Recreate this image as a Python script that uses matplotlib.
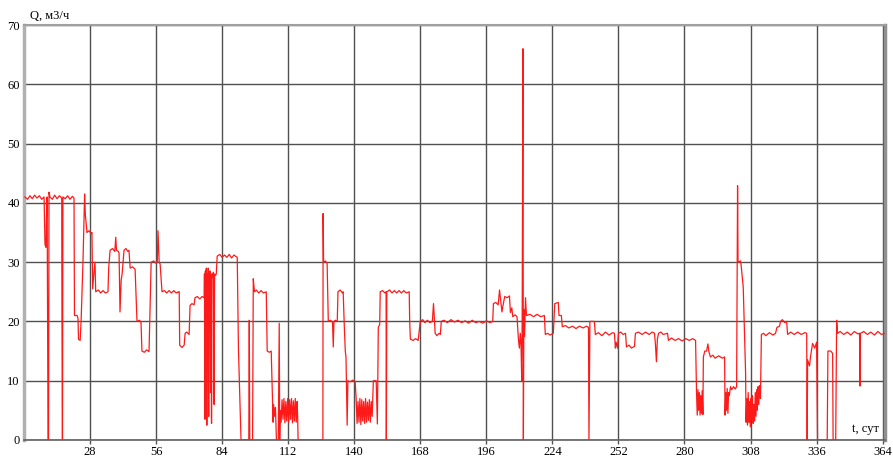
import numpy as np
import matplotlib
matplotlib.use("Agg")
import matplotlib.pyplot as plt

# flow rate Q (m3/h) versus time t (days), in four chunks
t_a = [0.4, 1.5, 2.5, 3.5, 4.5, 5.5, 6.5, 7.5, 8.5, 8.9, 9.3, 9.5, 9.8, 10.0, 10.2, 10.4, 10.6,
       11, 12, 13, 14, 15, 16.0, 16.1, 16.3, 16.5, 17.5, 18.5, 19.5, 20.5, 21.2, 21.4, 22.5,
       22.9, 23.1, 23.8, 24.2, 25.0, 25.7, 26.0, 26.7, 27.5, 28.5, 28.8, 29.1, 29.6, 30.1, 30.4,
       31.5, 32.5, 33.5, 34.5, 35.6, 35.9, 36.5, 37.5, 38.5, 38.9, 39.2, 40.0, 40.3, 40.7, 41.2,
       41.6, 42.4, 43.2, 44.0, 44.5, 45.0, 46.0, 47.1, 47.9, 49.0, 49.6, 50.0, 51.0, 52.0, 53.0,
       53.3, 53.9, 55.0, 56.0, 56.5, 56.8, 57.3, 57.7, 58.5]
q_a = [41, 40.6, 41.2, 40.7, 41.3, 40.8, 41.2, 40.6, 41, 33, 32.5, 37, 41, 20, 0, 0, 41.8,
       41, 40.6, 41.3, 40.7, 41.2, 40.8, 20, 0, 41, 40.7, 41.2, 40.6, 41.1, 40.8, 21, 21,
       20.5, 17, 16.8, 20, 30, 41.5, 38, 35, 35.3, 34.8, 35, 25.5, 28, 30, 25,
       25.3, 24.8, 25.2, 24.8, 25, 29, 32, 32.3, 31.8, 34.2, 32, 31.8, 31.5, 21.6, 27,
       28, 32, 32.3, 31.8, 32, 29, 29.2, 28.8, 20, 20.2, 19.8, 15, 14.8, 15.2, 14.9,
       20, 30, 30.2, 29.8, 30, 35.3, 30, 29.7, 25]

t_b = [59.5, 60.5, 61.5, 62.5, 63.5, 64.5, 65.5, 65.8, 66.0, 67.0, 67.9, 68.3, 69.0, 70.0, 70.4,
       71.2, 72.1, 72.5, 73.5, 74.5, 75.5, 76.4, 76.5, 76.7, 76.9, 77.1, 77.3, 77.5, 77.7, 77.9,
       78.1, 78.3, 78.5, 78.7, 78.9, 79.1, 79.3, 79.5, 79.7, 80.0, 80.3, 80.6, 80.8, 81.2, 81.5,
       81.9, 83, 84, 85, 86, 87, 88, 89, 90.4, 90.9, 92.0, 95.3, 95.5, 95.7, 96.9, 97.2, 97.7,
       98.5, 99.5, 100.5, 101.5, 102.7, 103.1, 104.0, 104.8, 105.4, 105.6, 105.8, 106.2, 106.6,
       107.0, 107.8, 108.2, 108.4, 108.6, 109.0, 109.4, 109.8, 110.2, 110.6, 111.0, 111.4, 111.8,
       112.2, 112.6, 113.0, 113.4, 113.8, 114.2, 114.6, 115.0, 115.4, 115.8, 116.0, 116.2,
       126.7, 126.8]
q_b = [25.2, 24.8, 25.2, 24.8, 25.2, 24.8, 25, 25, 16, 15.6, 16, 18, 18.2, 17.8, 22.7,
       23, 22.8, 24, 24.2, 23.8, 24.2, 24, 28, 3.5, 28.5, 5, 29, 2.5, 28, 12,
       29, 4, 28, 18, 28.5, 8, 28, 2.8, 28, 27.5, 28.3, 6, 28, 27.8, 28,
       31, 31.3, 30.8, 31.2, 30.8, 31.3, 30.7, 31.2, 30.8, 15.5, 0, 0, 20.2, 0, 0, 27.2, 25,
       25.3, 24.8, 25.2, 24.8, 25, 15, 14.8, 15, 6, 3, 6, 4, 5.5,
       0, 0, 19.7, 0, 5, 3, 6.8, 3.5, 7, 2.9, 6.5, 3.2, 7,
       3, 6.8, 3.5, 7, 2.9, 6.6, 3.2, 7, 3, 6.5, 4, 0,
       0, 38.2]

t_c = [127.0, 127.8, 128.5, 129.0, 130.0, 130.8, 131.1, 131.4, 132.0, 132.8, 133.1, 134.0, 135.0,
       135.3, 135.8, 136.2, 136.5, 137.0, 137.3, 138.3, 139.3, 140.4, 140.8, 141.2, 141.6, 142.0,
       142.4, 142.8, 143.2, 143.6, 144.0, 144.4, 144.8, 145.2, 145.6, 146.0, 146.4, 146.8, 147.2,
       147.6, 148.1, 149.3, 149.8, 150.2, 150.8, 151.0, 152, 153.0, 153.5, 153.6, 153.8, 155, 156,
       157, 158, 159, 160, 161, 162, 163.3, 163.5, 163.8, 165, 166, 167.1, 168.0, 169, 170, 171,
       172, 173.1, 173.6, 173.9, 174.3, 175, 176, 176.5, 176.9, 178, 179.5, 181, 182.5, 184,
       185.5, 187, 188.5, 190, 191.5, 193, 194.5, 196, 197.5, 198.7, 199.0, 200, 201, 201.6,
       202.2, 202.6, 203.2, 203.8, 204.8, 205.8, 206.2, 206.8, 207.2, 208.2, 209.0, 209.6, 210.0,
       210.4, 210.7, 211.0, 211.2, 211.5, 211.7, 211.9, 212.2, 212.6]
q_c = [30, 30.2, 29.8, 20, 20.2, 19.8, 15.7, 20, 20.2, 20, 25, 25.3, 24.8,
       25, 19, 15, 14, 2.5, 10, 9.8, 10.1, 9.8, 7, 2.8, 6.5, 3,
       7, 2.6, 6.8, 3.2, 6.5, 2.8, 7, 3, 6.4, 3.3, 6.8, 3, 6.5,
       4, 10, 10, 2.7, 19, 19.5, 25, 25.2, 24.8, 25, 0, 25, 25.3, 24.8,
       25.2, 24.8, 25.2, 24.8, 25.2, 24.8, 25, 20, 17, 16.8, 17.1, 16.8, 20, 20.3, 19.8, 20.2,
       19.8, 20, 23, 21, 18, 17.6, 18, 17.8, 20, 20.2, 19.8, 20.3, 19.9, 20.2,
       19.8, 20.1, 19.7, 20.2, 19.8, 20, 19.7, 20.1, 19.8, 20, 23, 23.2, 22.8, 25.3,
       23, 21.6, 23, 24.2, 24, 24.3, 21.5, 22.3, 20.8, 21.1, 20.8, 17, 15.5,
       18, 16, 10, 21, 66, 0, 22, 17.5, 24]

t_d = [213.0, 214.5, 216, 217.5, 219, 220.6, 221.0, 222, 223, 224.4, 225.0, 226.5, 226.8, 227.8,
       228.2, 229.5, 231, 232.5, 234, 235.5, 237, 238.5, 239.3, 239.5, 239.9, 241.8, 242.2, 243.5,
       245, 246.5, 248, 249.5, 250.3, 250.7, 251.0, 251.6, 252.0, 253, 254, 255.0, 255.4, 256.5,
       257.5, 258.8, 259.2, 260.5, 262, 263.5, 265, 266.3, 267.3, 267.7, 268.1, 268.5, 269.0, 270,
       271, 272.8, 273.2, 274.5, 276, 277.5, 279, 280.5, 282, 283.5, 284.7, 285.1, 285.4, 285.7,
       286.0, 286.3, 286.6, 286.9, 287.2, 287.5, 287.8, 288.0, 288.6, 289.4, 289.9, 290.4, 291,
       292, 293, 294.5, 296, 297.0, 297.2, 297.5, 297.8, 298.1, 298.4, 298.7, 299.0, 299.5, 300.0,
       300.8, 301.5, 302.1, 302.3, 302.5, 302.7, 303.8, 304.0, 304.9, 305.9, 306.1, 306.4, 306.7,
       307.0, 307.3, 307.6, 307.9, 308.2, 308.5, 308.8, 309.1, 309.4, 309.7, 310.0, 310.3, 310.6,
       310.9, 311.2, 311.5, 311.8, 312.2, 312.6, 313.5, 314.5, 316, 317.5, 318.6, 319.2, 320.3,
       320.7, 321.5, 322.5, 323.3, 323.7, 325, 326.5, 328, 329.5, 331, 331.8, 332.0, 332.2, 333,
       333.4, 334.3, 335.2, 336.0, 336.4, 340.5, 340.8, 342.0, 342.8, 343.0, 344.1, 344.5, 344.9,
       346, 347.5, 349, 350.5, 352, 353.5, 354.2, 354.4, 354.6, 356, 357.5, 359, 360.5, 362,
       363.5, 365]
q_d = [21, 21.2, 20.8, 21.2, 20.8, 21, 17.8, 18, 17.7, 18, 23, 23.2, 21, 21,
       19.1, 19.3, 18.9, 19.2, 18.8, 19.2, 18.9, 19.2, 19, 0, 20, 20, 17.8, 18.1,
       17.6, 18.2, 17.7, 18.1, 18, 15.5, 16.5, 15.5, 18, 18.2, 17.8, 18, 15.7, 16,
       15.5, 15.8, 18, 18.2, 17.8, 18.2, 17.8, 18.2, 18, 16, 13.2, 17, 18, 18.2,
       17.8, 18, 16.8, 17.2, 16.8, 17.1, 16.7, 17.1, 16.8, 17.1, 16.8, 8, 4.2, 8.5,
       5, 8, 4.2, 7.5, 4.5, 8.3, 4.3, 14, 15, 15, 16.2, 14.8, 14,
       14.3, 13.8, 14.2, 13.8, 14, 4.2, 8, 5, 8.7, 4.5, 8, 7.5, 9, 8.5,
       9, 8.6, 9, 25, 42.9, 30, 30.2, 29.5, 25.8, 11.3, 3, 7, 2.5,
       8, 3, 6.5, 2.2, 7, 3.5, 7.5, 2.8, 6, 3.2, 8, 4, 8.5,
       5, 9, 6, 9.2, 7, 17.8, 18, 17.6, 18.1, 17.7, 18, 19, 19.2,
       20, 20.3, 19.8, 20, 17.8, 18.2, 17.8, 18.2, 17.8, 18.1, 18, 0, 13.5, 12.5,
       14, 16.3, 15.5, 16.5, 0, 0, 15, 15, 14.6, 0, 0, 20.2, 18,
       18.3, 17.8, 18.2, 17.7, 18.3, 17.9, 18, 9.1, 18, 18.3, 17.8, 18.2, 17.7, 18.3,
       17.8, 18]

x_ticks = [28, 56, 84, 112, 140, 168, 196, 224, 252, 280, 308, 336, 364]
y_ticks = [0, 10, 20, 30, 40, 50, 60, 70]


def main():
    t = np.concatenate([t_a, t_b, t_c, t_d])
    q = np.concatenate([q_a, q_b, q_c, q_d])

    plt.rcParams["font.family"] = ["Liberation Serif", "DejaVu Serif"]

    fig = plt.figure(figsize=(8.93, 4.57), dpi=100)
    ax = fig.add_axes([24 / 893, 17 / 457, 861 / 893, 415 / 457])

    ax.set_xlim(0, 365)
    ax.set_ylim(0, 70)
    ax.set_xticks(x_ticks)
    ax.set_yticks(y_ticks)
    ax.grid(True, color="#505050", linewidth=1.0)
    ax.set_axisbelow(True)

    ax.plot(t, q, color="#ff1a1a", linewidth=0.9, zorder=3)

    ax.tick_params(axis="x", length=3, width=1, color="#555555", pad=1, labelsize=9)
    ax.tick_params(axis="y", length=0, pad=3, labelsize=9)

    ax.spines["left"].set_color("#b0b0b0")
    ax.spines["left"].set_linewidth(2.5)
    ax.spines["top"].set_color("#a0a0a0")
    ax.spines["top"].set_linewidth(1.5)
    ax.spines["right"].set_color("#909090")
    ax.spines["right"].set_linewidth(2.5)
    ax.spines["bottom"].set_color("#606060")
    ax.spines["bottom"].set_linewidth(1.2)

    ax.text(0.993, 0.012, "t, сут", transform=ax.transAxes, ha="right", va="bottom", fontsize=9)
    fig.text(30 / 893, 1 - 19 / 457, "Q, м3/ч", ha="left", va="baseline", fontsize=9)

    fig.savefig("out.png", dpi=100)
    plt.close(fig)


if __name__ == "__main__":
    main()
